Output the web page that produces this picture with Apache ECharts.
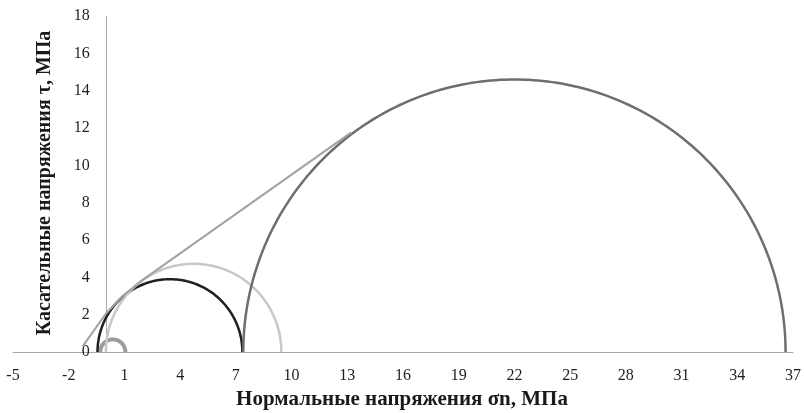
<!DOCTYPE html>
<html>
<head>
<meta charset="utf-8">
<script src="https://cdn.jsdelivr.net/npm/echarts@6/dist/echarts.min.js"></script>
<style>
  html, body { margin: 0; padding: 0; background: #fff; }
  #chart { width: 804px; height: 413px; }
</style>
</head>
<body>
<div id="chart"></div>
<script>
// Mohr circles: minor (sigma3) and major (sigma1) principal stresses, MPa
const circleNames = ['Круг 1', 'Круг 2', 'Круг 3', 'Круг 4'];
const sigma3 = [-0.3, -0.45, 0.0, 7.4];
const sigma1 = [1.05, 7.35, 9.45, 36.6];
const circleColors = ['#9c9c9c', '#1f1f1f', '#c8c8c8', '#6e6e6e'];
const circleWidths = [4, 2.5, 2.5, 2.5];

// Strength envelope (sigma, tau) points, MPa
const envelopeSigma = [-1.25, 0.0, 0.9, 2.0, 13.2];
const envelopeTau = [0.3, 2.05, 3.0, 3.88, 11.75];

// Axis ranges
const xMin = -5, xMax = 37, xStep = 3;
const yMin = 0, yMax = 18, yStep = 2;

const fontFamily = "'Liberation Serif', 'Times New Roman', serif";
const axisColor = '#a8a8a8';

const gridLeft = 13, gridRight = 11, chartWidth = 804;
// shift the tau axis so that it crosses the sigma axis at sigma = 0
const plotWidth = chartWidth - gridLeft - gridRight;
const yAxisShift = plotWidth * (0 - xMin) / (xMax - xMin);

const circleData = circleNames.map((n, i) => ({
  name: n,
  value: [sigma3[i], sigma1[i]],
  itemStyle: { color: circleColors[i] },
  lineWidth: circleWidths[i]
}));

const chart = echarts.init(document.getElementById('chart'), null, { renderer: 'canvas' });

chart.setOption({
  animation: false,
  backgroundColor: '#ffffff',
  grid: {
    left: gridLeft, right: gridRight, top: 16, bottom: 61,
    containLabel: false, outerBoundsMode: 'none'
  },
  xAxis: {
    type: 'value',
    min: xMin, max: xMax, interval: xStep,
    axisLine: { show: true, onZero: false, lineStyle: { color: axisColor, width: 1 } },
    axisTick: { show: false },
    splitLine: { show: false },
    axisLabel: { fontFamily, fontSize: 16, color: '#1e1e1e', margin: 16 }
  },
  yAxis: {
    type: 'value',
    position: 'left',
    offset: -yAxisShift,
    min: yMin, max: yMax, interval: yStep,
    axisLine: { show: true, onZero: false, lineStyle: { color: axisColor, width: 1 } },
    axisTick: { show: false },
    splitLine: { show: false },
    axisLabel: { fontFamily, fontSize: 16, color: '#1e1e1e', margin: 16 }
  },
  graphic: [
    {
      type: 'text', x: 402, y: 400,
      style: {
        text: 'Нормальные напряжения σn, МПа',
        font: 'bold 21px ' + fontFamily, fill: '#1a1a1a',
        textAlign: 'center', textVerticalAlign: 'middle'
      }
    },
    {
      type: 'text', x: 45, y: 183, rotation: Math.PI / 2,
      style: {
        text: 'Касательные напряжения τ, МПа',
        font: 'bold 20px ' + fontFamily, fill: '#1a1a1a',
        textAlign: 'center', textVerticalAlign: 'middle'
      }
    }
  ],
  series: [
    {
      type: 'custom',
      name: 'Круги Мора',
      coordinateSystem: 'cartesian2d',
      encode: { x: [0, 1] },
      clip: false,
      data: circleData,
      renderItem: function (params, api) {
        const s3 = api.value(0), s1 = api.value(1);
        const c = (s3 + s1) / 2, r = (s1 - s3) / 2;
        const pts = [];
        const n = 180;
        for (let k = 0; k <= n; k++) {
          const t = Math.PI * (1 - k / n);
          pts.push(api.coord([c + r * Math.cos(t), r * Math.sin(t)]));
        }
        const d = circleData[params.dataIndex];
        return {
          type: 'polyline',
          shape: { points: pts },
          style: { stroke: d.itemStyle.color, lineWidth: d.lineWidth, fill: null, lineJoin: 'round' }
        };
      }
    },
    {
      type: 'line',
      name: 'Огибающая',
      data: envelopeSigma.map((s, i) => [s, envelopeTau[i]]),
      showSymbol: false,
      symbol: 'none',
      lineStyle: { color: '#a2a2a2', width: 2 },
      z: 3
    }
  ]
});
</script>
</body>
</html>
